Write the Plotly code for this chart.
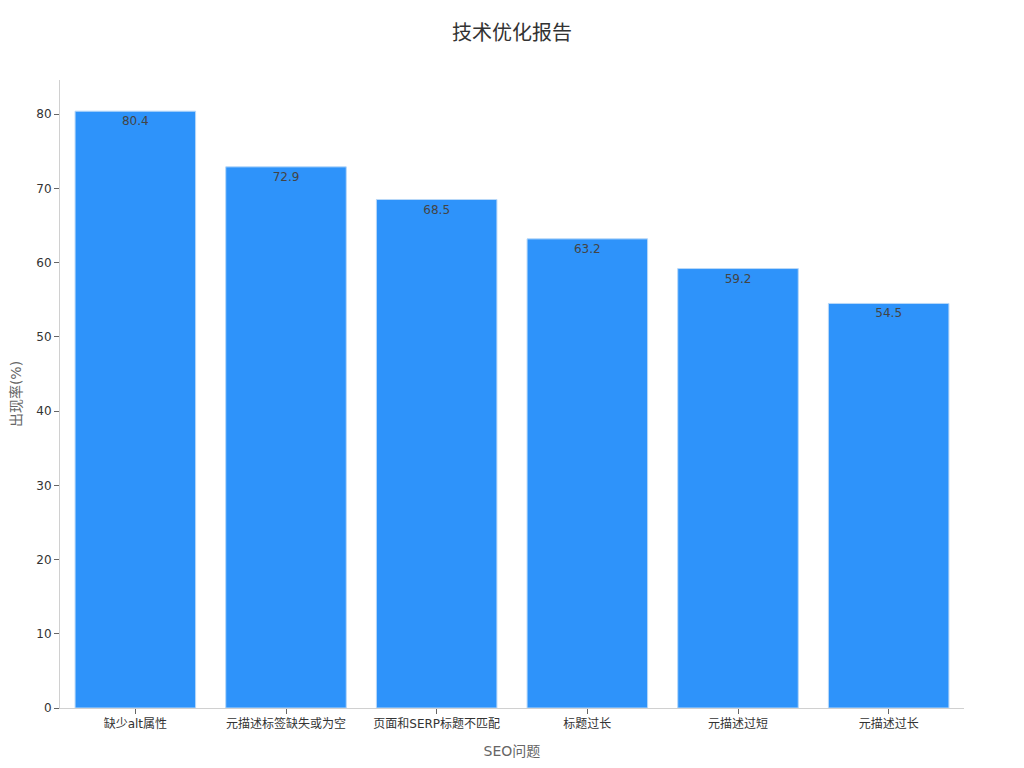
import plotly.graph_objects as go

# SEO技术问题出现率
categories = ["缺少alt属性", "元描述标签缺失或为空", "页面和SERP标题不匹配", "标题过长", "元描述过短", "元描述过长"]
rates = [80.4, 72.9, 68.5, 63.2, 59.2, 54.5]
y_ticks = [0, 10, 20, 30, 40, 50, 60, 70, 80]

font_family = "DejaVu Sans, Noto Sans CJK SC, sans-serif"

fig = go.Figure()
fig.add_trace(go.Bar(
    x=categories,
    y=rates,
    text=[f"{v:.1f}" for v in rates],
    textposition="inside",
    insidetextanchor="end",
    textfont=dict(color="#444444", size=12),
    marker=dict(color="#2E93FA", line=dict(color="#B8D8F8", width=1)),
))

fig.update_layout(
    title=dict(text="技术优化报告", xref="paper", x=0.5, xanchor="center", y=0.977, yanchor="top",
               font=dict(size=20, color="#333333")),
    font=dict(family=font_family, size=12, color="#333333"),
    width=1024, height=768,
    margin=dict(l=52, r=68, t=72, b=68),
    paper_bgcolor="white", plot_bgcolor="white",
    bargap=0.2,
    showlegend=False,
)
fig.update_xaxes(
    title=dict(text="SEO问题", font=dict(size=14, color="#666666")),
    showline=True, linecolor="#D0D0D0", ticks="outside", ticklen=5, tickcolor="#666666",
    showgrid=False,
)
fig.update_yaxes(
    title=dict(text="出现率(%)", font=dict(size=14, color="#666666")),
    range=[0, 84.6], tickvals=y_ticks, automargin=False,
    showline=True, linecolor="#D0D0D0", ticks="outside", ticklen=5, tickcolor="#666666",
    showgrid=False, zeroline=False,
)

fig.write_html("out.html")
